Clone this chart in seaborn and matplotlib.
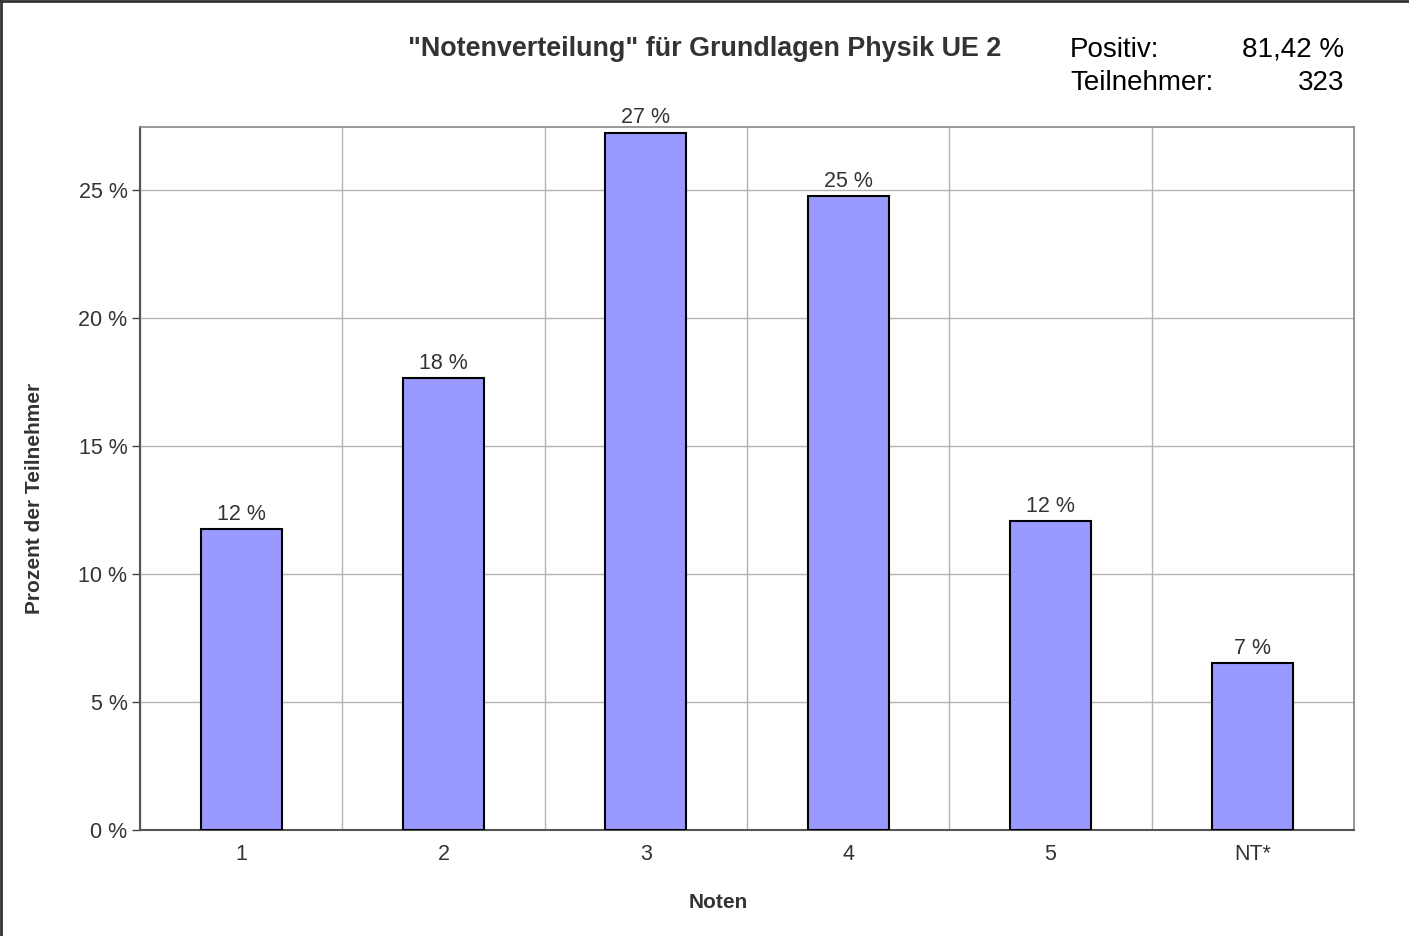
import matplotlib
matplotlib.use('Agg')
import matplotlib.pyplot as plt
from matplotlib.lines import Line2D
from matplotlib.ticker import FixedLocator
import seaborn as sns
import pandas as pd

# data
noten = ['1', '2', '3', '4', '5', 'NT*']
prozent = [11.76, 17.65, 27.24, 24.77, 12.07, 6.52]
positiv = '81,42 %'
teilnehmer = '323'
y_ticks = [0, 5, 10, 15, 20, 25]

df = pd.DataFrame({'Noten': noten, 'Prozent': prozent})

sns.set_style('white')
plt.rcParams['font.family'] = ['Liberation Sans', 'DejaVu Sans']

fig = plt.figure(figsize=(14.09, 9.36), dpi=100)
ax = fig.add_axes([140 / 1409, 106 / 936, 1214 / 1409, 703 / 936])

sns.barplot(data=df, x='Noten', y='Prozent', color='#9999ff', saturation=1,
            width=0.4, edgecolor='black', linewidth=1.5, ax=ax, zorder=3)

ax.set_xlim(-0.5, len(noten) - 0.5)
ax.set_ylim(0, 27.46)
ax.set_yticks(y_ticks)
ax.set_yticklabels([f'{t} %' for t in y_ticks])

# vertical grid lines sit between the categories
ax.xaxis.set_minor_locator(FixedLocator([i - 0.5 for i in range(len(noten) + 1)]))
ax.grid(axis='y', which='major', color='#b3b3b3', linewidth=1, zorder=0)
ax.grid(axis='x', which='minor', color='#b3b3b3', linewidth=1, zorder=0)
ax.set_axisbelow(True)

ax.tick_params(axis='x', which='major', length=0, pad=10, labelsize=15.5, labelcolor='#333333')
ax.tick_params(axis='x', which='minor', length=6, width=1, color='#444444', direction='out')
ax.tick_params(axis='y', which='major', length=6, width=1, color='#444444', direction='out',
               labelsize=15.5, labelcolor='#333333', pad=3, left=True)

for side in ['left', 'bottom']:
    ax.spines[side].set_color('#555555')
    ax.spines[side].set_linewidth(1.5)
for side in ['top', 'right']:
    ax.spines[side].set_color('#888888')
    ax.spines[side].set_linewidth(1.2)

ax.bar_label(ax.containers[0], labels=[f'{p:.0f} %' for p in prozent], padding=3,
             fontsize=15.5, color='#333333')

ax.set_xlabel('Noten', fontsize=15, fontweight='bold', color='#333333')
ax.set_ylabel('Prozent der Teilnehmer', fontsize=15, fontweight='bold', color='#333333')
ax.xaxis.label.set_va('center')
ax.yaxis.label.set_va('center')
ax.xaxis.set_label_coords((718 - 140) / 1214, -(902 - 830) / 703)
ax.yaxis.set_label_coords((35 - 140) / 1214, (830 - 498) / 703)

fig.text(705 / 1409, 1 - 49 / 936, '"Notenverteilung" für Grundlagen Physik UE 2',
         ha='center', va='center', fontsize=19.4, fontweight='bold', color='#333333')
fig.text(1070 / 1409, 1 - 50 / 936, 'Positiv:', ha='left', va='center', fontsize=20, color='black')
fig.text(1344 / 1409, 1 - 50 / 936, positiv, ha='right', va='center', fontsize=20, color='black')
fig.text(1070 / 1409, 1 - 83 / 936, 'Teilnehmer:', ha='left', va='center', fontsize=20, color='black')
fig.text(1344 / 1409, 1 - 83 / 936, teilnehmer, ha='right', va='center', fontsize=20, color='black')

# frame line on left and top of the picture
fig.add_artist(Line2D([0.0008, 0.0008], [0, 1], transform=fig.transFigure, color='#333333', linewidth=2))
fig.add_artist(Line2D([0, 1], [0.9988, 0.9988], transform=fig.transFigure, color='#333333', linewidth=2))

fig.savefig('out.png', dpi=100)
plt.close(fig)
